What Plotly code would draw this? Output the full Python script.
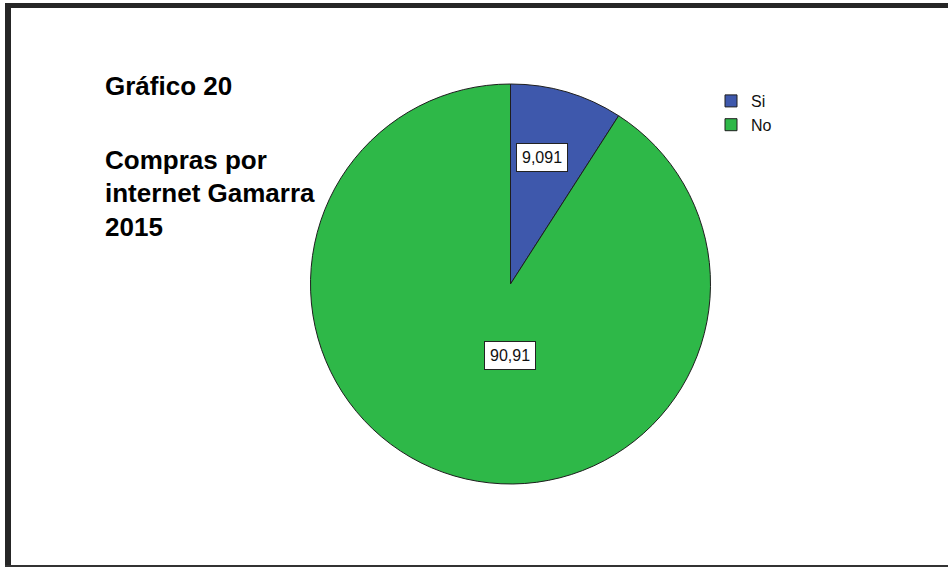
import plotly.graph_objects as go

# Respuestas: ¿Compra por internet?
categorias = ["Si", "No"]
porcentajes = [9.091, 90.91]
colores = ["#3E58AC", "#2EB848"]
titulo = ["Gráfico 20", "Compras por", "internet Gamarra", "2015"]

W, H = 948, 567
cx, cy, r = 510.5, 284, 200  # pie centre / radius in pixels


def fmt(v):
    return f"{v:.4g}".replace(".", ",")


fig = go.Figure()
fig.add_trace(go.Pie(
    labels=categorias,
    values=porcentajes,
    sort=False,
    direction="clockwise",
    rotation=0,
    textinfo="none",
    hoverinfo="label+value",
    marker=dict(colors=colores, line=dict(color="#1e1e1e", width=1)),
    domain=dict(x=[(cx - r) / W, (cx + r) / W],
                y=[(H - cy - r) / H, (H - cy + r) / H]),
))

# value labels in white boxes
label_pos = [(542, 143), (510, 355)]
for v, (px, py) in zip(porcentajes, label_pos):
    fig.add_annotation(
        x=px / W, y=1 - py / H, xref="paper", yref="paper",
        text=fmt(v), showarrow=False,
        font=dict(family="Liberation Sans, Arial", size=16, color="#111"),
        bgcolor="white", bordercolor="#222", borderwidth=1, borderpad=5,
    )

# title block on the left, one line per annotation
title_y = [86, 160, 193, 227]
for t, py in zip(titulo, title_y):
    fig.add_annotation(
        x=103 / W, y=1 - py / H, xref="paper", yref="paper",
        xanchor="left", yanchor="middle", align="left", showarrow=False,
        text=f"<b>{t}</b>",
        font=dict(family="Liberation Sans, Arial", size=26, color="#000"),
    )

# outer frame
fig.add_shape(type="line", xref="paper", yref="paper",
              x0=5 / W, x1=1, y0=1 - 5.5 / H, y1=1 - 5.5 / H,
              line=dict(color="#262626", width=5))
fig.add_shape(type="line", xref="paper", yref="paper",
              x0=8 / W, x1=8 / W, y0=0, y1=1 - 3 / H,
              line=dict(color="#262626", width=6))
fig.add_shape(type="line", xref="paper", yref="paper",
              x0=5 / W, x1=1, y0=1 / H, y1=1 / H,
              line=dict(color="#333333", width=2))

fig.update_layout(
    width=W, height=H,
    margin=dict(l=0, r=0, t=0, b=0),
    paper_bgcolor="white", plot_bgcolor="white",
    showlegend=True,
    legend=dict(x=711 / W, y=1 - 84 / H, xanchor="left", yanchor="top",
                font=dict(family="Liberation Sans, Arial", size=16, color="#111"),
                itemwidth=30, bgcolor="rgba(0,0,0,0)", traceorder="normal"),
)

fig.write_html("out.html")
